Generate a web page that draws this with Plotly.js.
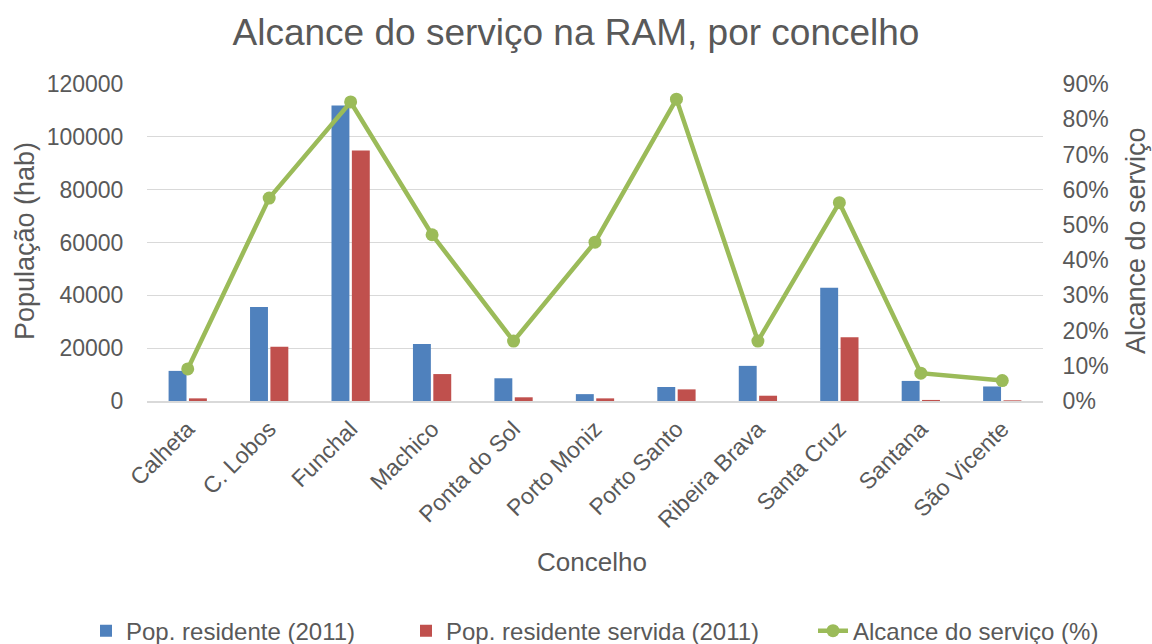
<!DOCTYPE html>
<html>
<head>
<meta charset="utf-8">
<script src="https://cdn.plot.ly/plotly-3.0.1.min.js"></script>
<style>html,body{margin:0;padding:0;background:#fff;}#chart{width:1152px;height:644px;}</style>
</head>
<body>
<div id="chart"></div>
<script>
const categories = ["Calheta","C. Lobos","Funchal","Machico","Ponta do Sol","Porto Moniz","Porto Santo","Ribeira Brava","Santa Cruz","Santana","São Vicente"];
const popResidente = [11400, 35600, 111900, 21600, 8600, 2600, 5300, 13300, 42900, 7600, 5500];
const popServida = [1000, 20500, 94800, 10200, 1400, 1000, 4400, 2000, 24100, 400, 250];
const alcance = [0.091, 0.576, 0.849, 0.472, 0.170, 0.451, 0.857, 0.170, 0.563, 0.079, 0.058];

const txt = '#595959';
const font = 'Liberation Sans, Arial, sans-serif';
const clear = 'rgba(0,0,0,0)';

const data = [
  {type:'bar', name:'Pop. residente (2011)', x:categories, y:popResidente,
   marker:{color:'#4f81bd'}, legend:'legend'},
  {type:'bar', name:'Pop. residente servida (2011)', x:categories, y:popServida,
   marker:{color:'#c0504d'}, legend:'legend2'},
  {type:'scatter', mode:'lines+markers', name:'Alcance do serviço (%)', x:categories, y:alcance,
   yaxis:'y2', line:{color:'#9bbb59', width:4.5}, marker:{color:'#9bbb59', size:13}, legend:'legend3'}
];

function leg(px) {
  return {orientation:'h', xref:'container', yref:'container', x:px/1152, xanchor:'left', y:0.02, yanchor:'middle',
          font:{size:24, color:txt}, bgcolor:clear};
}

const layout = {
  width:1152, height:644,
  margin:{l:147, r:109, t:84, b:243, autoexpand:false},
  paper_bgcolor:'#fff', plot_bgcolor:'#fff',
  font:{family:font, color:txt, size:23},
  title:{text:'Alcance do serviço na RAM, por concelho', font:{size:37, color:txt, family:font}, x:0.5, xanchor:'center', y:0.95, yanchor:'middle'},
  barmode:'group', bargap:0.5, bargroupgap:0.12,
  showlegend:true,
  legend:leg(86), legend2:leg(406), legend3:leg(813),
  xaxis:{automargin:false, range:[-0.5, 10.5], tickangle:-45, tickfont:{size:23, color:txt}, showline:true, linecolor:'#d9d9d9', linewidth:1.5,
         ticks:'outside', ticklen:4, tickcolor:clear},
  yaxis:{automargin:false, range:[0,120000], dtick:20000, tickformat:'d', gridcolor:'#d9d9d9', gridwidth:1.3, zeroline:false,
         tickfont:{size:23, color:txt}, ticks:'outside', ticklen:18, tickcolor:clear},
  yaxis2:{automargin:false, overlaying:'y', side:'right', range:[0,0.9], dtick:0.1, tickformat:'.0%', showgrid:false, zeroline:false,
          tickfont:{size:23, color:txt}, ticks:'outside', ticklen:14, tickcolor:clear},
  annotations:[
    {text:'População (hab)', xref:'paper', yref:'paper', x:-0.136, y:0.505, xanchor:'center', yanchor:'middle', textangle:-90, showarrow:false, font:{size:27, color:txt}},
    {text:'Alcance do serviço', xref:'paper', yref:'paper', x:1.104, y:0.505, xanchor:'center', yanchor:'middle', textangle:-90, showarrow:false, font:{size:27, color:txt}},
    {text:'Concelho', xref:'paper', yref:'paper', x:0.497, y:-0.508, xanchor:'center', yanchor:'middle', showarrow:false, font:{size:26, color:txt}}
  ]
};

Plotly.newPlot('chart', data, layout, {displayModeBar:false, staticPlot:true});
</script>
</body>
</html>
